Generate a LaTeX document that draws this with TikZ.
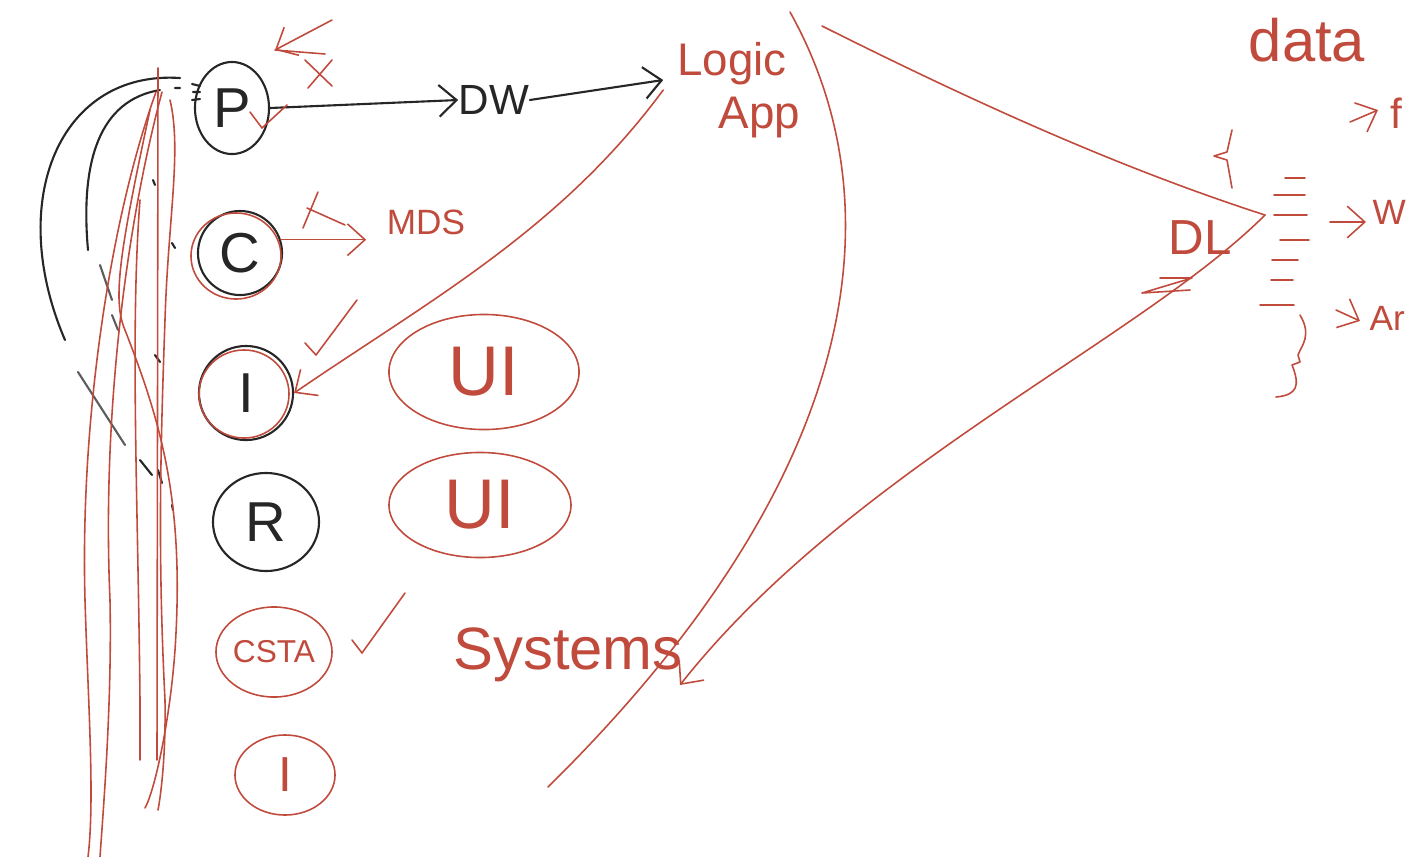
\documentclass[tikz,border=0pt]{standalone}
\usepackage{fontspec}
\setmainfont{Liberation Sans}
\usetikzlibrary{arrows.meta,positioning,shapes.geometric}
\definecolor{pen}{RGB}{192,74,60}
\definecolor{ink}{RGB}{38,38,38}
\tikzset{
  inkring/.style={ellipse, draw=ink, text=ink, line width=0.6pt, inner sep=0pt, font=\fontsize{16}{16}\selectfont},
  penring/.style={ellipse, draw=pen, text=pen, line width=0.45pt, inner sep=0pt},
  penword/.style={text=pen, inner sep=0pt, font=\fontsize{10}{10}\selectfont},
  inkword/.style={text=ink, inner sep=0pt, font=\fontsize{12}{12}\selectfont},
  penline/.style={draw=pen, line width=0.45pt},
  inkline/.style={draw=ink, line width=0.6pt},
  barb/.style={-{Straight Barb[length=5pt,width=9pt]}}
}
\begin{document}
\begin{tikzpicture}[x=0.01cm, y=-0.01cm, line cap=round, line join=round]
\useasboundingbox (0,0) rectangle (1408,857);
\clip (0,0) rectangle (1408,857);

% source systems
\node[inkring, minimum width=0.74cm, minimum height=0.92cm] (P) at (232,108) {P};
\node[inkring, minimum size=0.84cm] (C) at (240,253) {C};
\node[penring, minimum width=0.9cm, minimum height=0.86cm] (Cr) at (236,256) {};
\node[inkring, minimum size=0.94cm] (I) at (246,393) {I};
\node[penring, minimum width=0.9cm, minimum height=0.88cm] (Ir) at (244,394) {};
\node[inkring, minimum width=1.06cm, minimum height=0.98cm] (R) at (266,522) {R};
\node[penring, minimum width=1.1cm, minimum height=0.9cm, font=\fontsize{9}{9}\selectfont] (CSTA) at (274,652) {CSTA};
\node[penring, minimum width=1.0cm, minimum height=0.8cm, font=\fontsize{14}{14}\selectfont] (I2) at (285,775) {I};
\node[penring, minimum width=1.9cm, minimum height=1.15cm, font=\fontsize{20}{20}\selectfont] (UI1) at (484,372) {UI};
\node[penring, minimum width=1.82cm, minimum height=1.05cm, font=\fontsize{20}{20}\selectfont] (UI2) at (480,505) {UI};

% targets
\node[inkword] (DW) at (494,100) {DW};
\node[penword] (MDS) at (426,222) {MDS};
\node[penword, align=center, font=\fontsize{13}{15}\selectfont] (logic) at (732,90) {Logic\\\hspace*{1.2em}App};
\node[penword, font=\fontsize{17}{17}\selectfont] (systems) at (568,655) {Systems};
\node[penword, font=\fontsize{14}{14}\selectfont] (DL) at (1200,238) {DL};
\node[penword, font=\fontsize{17}{17}\selectfont] (data) at (1307,40) {data};
\coordinate (tip) at (1265,215);
\coordinate (ftop) at (790,12);
\coordinate (fbot) at (548,787);
\coordinate (etop) at (822,26);
\coordinate (ebot) at (680,685);

% flows
\draw[inkline, barb] (P.east) -- (DW.west);
\draw[inkline, barb] (DW.east) -- (logic.north west |- 0,80);
\draw[penline, barb, shorten >=0.2cm] (C.18) -- (MDS.west |- C.18);
\draw[penline, barb] (logic.west) .. controls (560,230) and (430,300) .. (I.east);

% funnel into DL
\draw[penline] (ftop) .. controls (895,200) and (870,470) .. (fbot);
\draw[penline] (etop) .. controls (960,95) and (1110,165) .. (tip);
\draw[penline, barb] (tip) .. controls (1140,340) and (850,470) .. (ebot);
\draw[penline] (1160,278) -- (1192,278) -- (1142,293) -- (1190,290);

% crosses and ticks
\draw[penline] (308,88) -- (332,60) (305,60) -- (332,86);
\draw[penline, barb] (332,20) -- (275,50);
\draw[penline] (275,50) -- (325,54);
\draw[penline] (250,112) -- (262,128) -- (287,105);
\draw[penline] (318,192) -- (303,228) (307,208) -- (345,225);
\draw[penline] (305,343) -- (316,355) -- (357,300);
\draw[penline] (352,640) -- (362,653) -- (405,593);

% DL outputs
\foreach \y/\a/\b in {178/1285/1305, 195/1274/1305, 215/1274/1307, 240/1280/1309, 260/1272/1298, 280/1271/1293, 305/1260/1294}
  \draw[penline] (\a,\y) -- (\b,\y);
\draw[penline] (1232,130) -- (1227,152) -- (1214,156) -- (1227,160) -- (1232,188);
\draw[penline] (1300,315) .. controls (1312,335) and (1302,345) .. (1298,355) -- (1300,362) -- (1292,365) .. controls (1300,385) and (1298,395) .. (1276,397);
\draw[penline, barb] (1350,122) -- (1378,110);
\node[penword, font=\fontsize{12}{12}\selectfont, anchor=west] (ftext) at (1390,113) {f};
\draw[penline, barb] (1330,222) -- (1366,222);
\node[penword, font=\fontsize{10}{10}\selectfont, anchor=west] (wtext) at (1372,212) {W};
\draw[penline, barb] (1336,310) -- (1360,321);
\node[penword, font=\fontsize{10}{10}\selectfont, anchor=west] (artext) at (1369,318) {Ar};

% scribbles on the left
\draw[inkline] (180,78) .. controls (60,70) and (5,200) .. (65,340);
\draw[inkline] (160,90) .. controls (100,100) and (80,160) .. (88,250);
\draw[inkline, draw=ink!75] (78,372) -- (125,445);
\draw[inkline, draw=ink!75] (100,265) -- (112,300) (112,315) -- (118,330);
\draw[inkline] (140,460) -- (152,475) (158,470) -- (162,483) (172,505) -- (173,510);
\draw[inkline] (153,180) -- (155,185) (172,243) -- (175,248) (155,355) -- (160,362);
\draw[inkline] (192,84) -- (200,86) (193,92) -- (200,92) (192,100) -- (200,99) (175,88) -- (180,88);
\draw[penline] (158,68) -- (157,760);
\draw[penline] (156,92) .. controls (110,220) and (80,420) .. (85,600) .. controls (88,700) and (95,800) .. (88,857);
\draw[penline] (162,92) .. controls (125,230) and (102,420) .. (110,600) .. controls (112,700) and (104,800) .. (100,857);
\draw[penline] (150,110) .. controls (120,250) and (112,300) .. (125,330) .. controls (160,420) and (185,500) .. (175,650) .. controls (170,720) and (155,790) .. (145,808);
\draw[penline] (170,100) .. controls (182,150) and (168,220) .. (165,320) .. controls (160,460) and (158,560) .. (165,700) .. controls (166,760) and (160,800) .. (158,810);
\draw[penline] (140,200) .. controls (130,330) and (138,500) .. (140,700) -- (140,760);
\end{tikzpicture}
\end{document}
